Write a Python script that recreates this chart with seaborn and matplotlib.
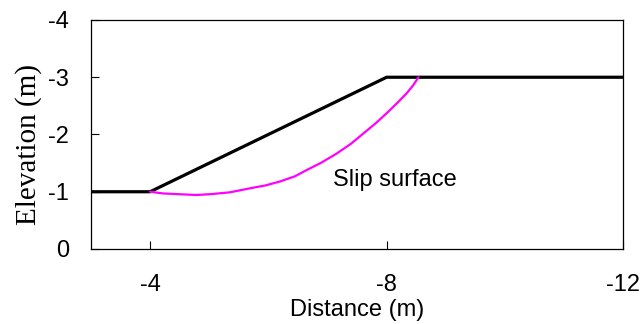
import matplotlib
matplotlib.use("Agg")
import matplotlib.pyplot as plt
import seaborn as sns
import pandas as pd

# Ground profile (distance, elevation)
ground_x = [-3, -4, -8, -12]
ground_y = [-1, -1, -3, -3]

# Slip surface trace
slip_x = [-4.0, -4.22, -4.53, -4.79, -5.05, -5.35, -5.69, -5.95, -6.20, -6.45, -6.65, -6.90,
          -7.16, -7.40, -7.61, -7.82, -8.0, -8.18, -8.34, -8.45, -8.54]
slip_y = [-1.0, -0.97, -0.955, -0.943, -0.96, -0.99, -1.06, -1.11, -1.18, -1.27, -1.38, -1.51,
          -1.67, -1.84, -2.02, -2.20, -2.37, -2.55, -2.72, -2.86, -3.0]

x_ticks = [-4, -8, -12]
y_ticks = [0, -1, -2, -3, -4]

sns.set_theme(style="white")
plt.rcParams["font.family"] = ["Liberation Sans", "DejaVu Sans"]

fig = plt.figure(figsize=(6.43, 3.24), dpi=100)
ax = fig.add_axes([0.1415, 0.2315, 0.8275, 0.7068])

ground = pd.DataFrame({"x": ground_x, "y": ground_y})
slip = pd.DataFrame({"x": slip_x, "y": slip_y})

sns.lineplot(data=ground, x="x", y="y", sort=False, color="black", linewidth=2.3, ax=ax)
sns.lineplot(data=slip, x="x", y="y", sort=False, color="#FF00FF", linewidth=1.6, ax=ax)

ax.text(-7.09, -1.2, "Slip surface", fontsize=17, va="center", ha="left", color="black")

ax.set_xlim(-3, -12)
ax.set_ylim(0, -4)
ax.set_xticks(x_ticks)
ax.set_xticklabels([str(v) for v in x_ticks])
ax.set_yticks(y_ticks)
ax.set_yticklabels([str(v) for v in y_ticks])

ax.tick_params(axis="x", direction="in", length=6, width=0.8, pad=18, labelsize=17, colors="black", bottom=True)
ax.tick_params(axis="y", direction="in", length=6, width=0.8, pad=16, labelsize=17, colors="black", left=True)

for side in ["top", "right", "bottom", "left"]:
    ax.spines[side].set_visible(True)
    ax.spines[side].set_color("black")
    ax.spines[side].set_linewidth(0.9)

ax.set_xlabel("Distance (m)", fontsize=17, labelpad=2.5, color="black")
ax.set_ylabel("Elevation (m)", fontsize=21, family=["Liberation Serif", "DejaVu Serif"], labelpad=4, color="black")
ax.yaxis.label.set_y(0.455)

fig.savefig("out.png", dpi=100, facecolor="white")
